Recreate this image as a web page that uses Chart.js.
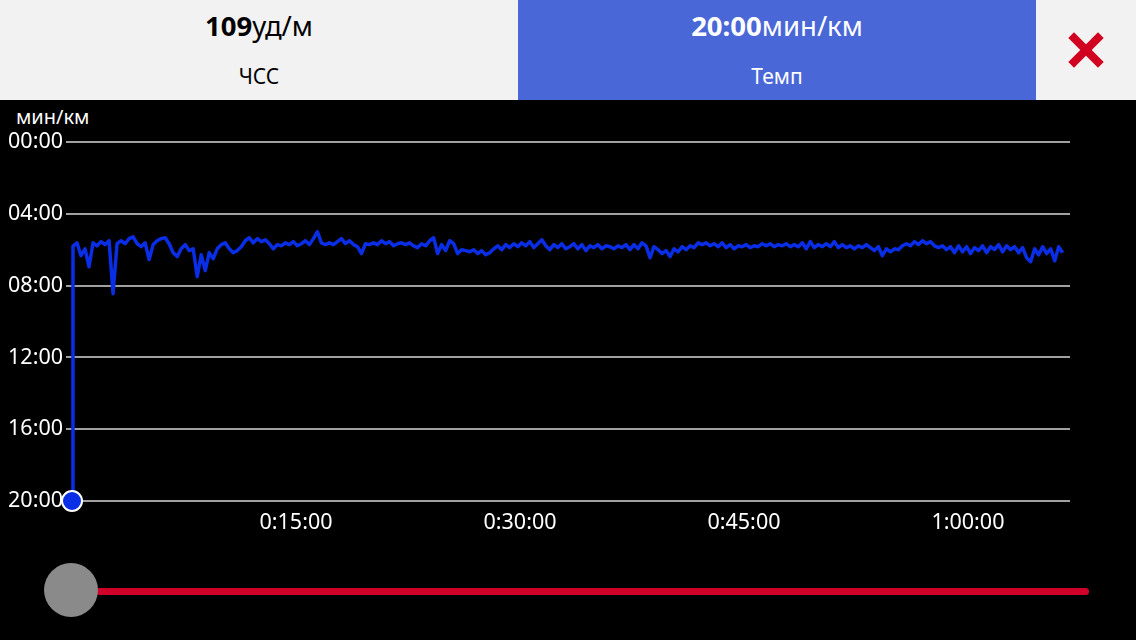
<!DOCTYPE html>
<html>
<head>
<meta charset="utf-8">
<script src="https://cdn.jsdelivr.net/npm/chart.js@4/dist/chart.umd.min.js"></script>
<style>
  html, body { margin: 0; padding: 0; background: #000; width: 1136px; height: 640px; overflow: hidden; font-family: "Noto Sans", sans-serif; }
  .panel { position: absolute; top: 0; height: 100px; text-align: center; }
  .val { position: absolute; left: 0; right: 0; top: 6px; font-size: 27.5px; line-height: 40px; }
  .lbl { position: absolute; left: 0; right: 0; top: 60px; font-size: 21px; line-height: 32px; }
  .bar { position: absolute; left: 29px; top: 46px; width: 42px; height: 8px; background: #d0021f; }
  #unit { position: absolute; left: 16px; top: 103px; color: #fff; font-size: 20px; line-height: 28px; }
  #chartWrap { position: absolute; left: 0; top: 100px; width: 1136px; height: 446px; }
  #knob { position: absolute; left: 44px; top: 563px; width: 54px; height: 54px; border-radius: 50%; background: #8a8a8a; }
  #track { position: absolute; left: 96px; top: 588px; width: 993px; height: 7px; border-radius: 4px; background: #d0022a; }
</style>
</head>
<body>
<div class="panel" style="left:0;width:518px;background:#f2f2f2;color:#000;">
  <div class="val"><b>109</b>уд/м</div>
  <div class="lbl">ЧСС</div>
</div>
<div class="panel" style="left:518px;width:518px;background:#4a67d7;color:#fff;">
  <div class="val"><b>20:00</b>мин/км</div>
  <div class="lbl">Темп</div>
</div>
<div class="panel" style="left:1036px;width:100px;background:#f2f2f2;">
  <div class="bar" style="transform:rotate(45deg)"></div>
  <div class="bar" style="transform:rotate(-45deg)"></div>
</div>
<div id="unit">мин/км</div>
<div id="chartWrap"><canvas id="c" width="1136" height="446"></canvas></div>
<div id="track"></div>
<div id="knob"></div>
<script>
// Pace in seconds per km; first sample at t=0 is 20:00
const startPace = 1200;
const sampleStart = 4;     // seconds, time of first regular sample
const sampleStep = 16.1;   // seconds between samples
const paceSec = [
  348,337,380,357,417,337,347,333,343,330,
  507,340,330,340,323,317,340,350,337,393,
  343,330,323,320,340,370,383,357,343,363,
  357,450,377,430,370,390,357,343,337,357,370,
  363,350,330,320,337,323,333,327,340,357,
  343,347,337,343,333,347,340,330,343,323,
  300,337,343,337,343,333,323,340,330,343,
  350,373,340,343,337,343,330,340,333,347,340,
  337,343,337,347,353,340,347,330,320,373,
  343,363,330,340,373,360,363,367,360,373,
  363,377,370,357,347,360,343,353,340,350,
  337,347,333,353,340,327,347,360,343,353,340,357,
  350,340,357,343,363,347,353,343,357,347,
  350,357,347,353,343,360,343,357,337,347,
  387,350,360,373,363,383,357,367,350,360,
  347,353,337,343,337,347,340,350,337,353,343,357,347,
  350,343,353,347,350,340,347,340,350,343,
  347,340,350,343,350,337,357,333,353,343,
  350,340,350,333,353,343,353,347,357,347,
  353,343,353,363,350,380,357,367,357,360,347,340,
  347,333,343,330,340,333,347,353,347,360,
  350,370,347,367,350,373,353,363,347,370,
  350,360,343,367,347,360,350,370,353,387,
  400,357,377,350,373,357,397,350,370
];
const xTicks = [900, 1800, 2700, 3600];   // 0:15:00 ... 1:00:00
const yTicks = [0, 240, 480, 720, 960, 1200];
const xMax = 4010;

const points = [{x: 0, y: startPace}].concat(
  paceSec.map((v, i) => ({x: sampleStart + i * sampleStep, y: v}))
);

function mmss(s) {
  const m = Math.floor(s / 60), sec = Math.round(s % 60);
  return String(m).padStart(2, '0') + ':' + String(sec).padStart(2, '0');
}
function hmmss(s) {
  const h = Math.floor(s / 3600), m = Math.floor((s % 3600) / 60), sec = Math.round(s % 60);
  return h + ':' + String(m).padStart(2, '0') + ':' + String(sec).padStart(2, '0');
}

const font = {family: "Noto Sans", size: 21.5};

new Chart(document.getElementById('c'), {
  type: 'line',
  data: {
    datasets: [{
      data: points,
      borderColor: '#0a2de6',
      borderWidth: 3.5,
      tension: 0,
      borderJoinStyle: 'round',
      clip: false,
      pointRadius: ctx => ctx.dataIndex === 0 ? 10 : 0,
      pointHoverRadius: 0,
      pointBackgroundColor: '#0a2de6',
      pointBorderColor: '#ffffff',
      pointBorderWidth: 2
    }]
  },
  options: {
    responsive: false,
    animation: false,
    devicePixelRatio: 1,
    layout: {padding: {top: 42, right: 66, left: 0, bottom: 0}},
    plugins: {legend: {display: false}, tooltip: {enabled: false}},
    scales: {
      x: {
        type: 'linear',
        min: 0,
        max: xMax,
        border: {display: false},
        grid: {display: false, drawTicks: false},
        afterBuildTicks: s => { s.ticks = xTicks.map(v => ({value: v})); },
        afterFit: s => { s.height = 45; },
        ticks: {
          color: '#ffffff',
          font: font,
          padding: 9,
          maxRotation: 0,
          callback: v => hmmss(v)
        }
      },
      y: {
        type: 'linear',
        reverse: true,
        min: 0,
        max: 1200,
        border: {display: false},
        grid: {color: '#a0a0a0', lineWidth: 2, drawTicks: true, tickLength: 6},
        afterBuildTicks: s => { s.ticks = yTicks.map(v => ({value: v})); },
        afterFit: s => { s.width = 72; },
        ticks: {
          color: '#ffffff',
          font: font,
          padding: 3,
          callback: v => mmss(v)
        }
      }
    }
  }
});
</script>
</body>
</html>
